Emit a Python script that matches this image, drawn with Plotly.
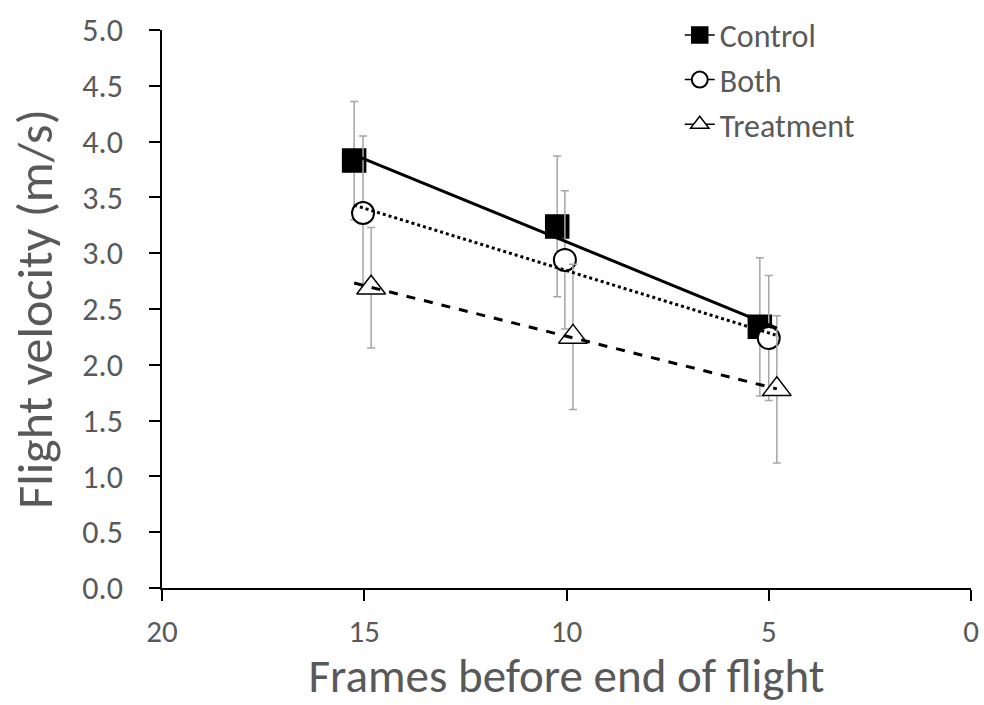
import numpy as np
import plotly.graph_objects as go

# Data
series_names = ["Control", "Both", "Treatment"]
x_control = [15.25, 10.23, 5.22]
y_control = [3.83, 3.24, 2.34]
e_control = [0.53, 0.63, 0.62]

x_both = [15.03, 10.04, 5.0]
y_both = [3.36, 2.94, 2.24]
e_both = [0.69, 0.62, 0.56]

x_treat = [14.83, 9.84, 4.8]
y_treat = [2.69, 2.25, 1.78]
e_treat = [0.54, 0.65, 0.66]

x_ticks = [20, 15, 10, 5, 0]
y_ticks = [0.0, 0.5, 1.0, 1.5, 2.0, 2.5, 3.0, 3.5, 4.0, 4.5, 5.0]

FONT = "Carlito, Open Sans"
GREY = "#595959"

styles = {
    "Control": dict(symbol="square", size=23, fill="black", lw=1.5, dash="solid"),
    "Both": dict(symbol="circle", size=22, fill="white", lw=2, dash="dot"),
    "Treatment": dict(symbol="triangle-up", size=25, fill="white", lw=1.5, dash="dash"),
}

data = {
    "Control": (x_control, y_control, e_control),
    "Both": (x_both, y_both, e_both),
    "Treatment": (x_treat, y_treat, e_treat),
}

fig = go.Figure()

all_x = x_control + x_both + x_treat
span = np.array([max(all_x), min(all_x)])

for name in series_names:
    xs, ys, es = data[name]
    st = styles[name]
    fig.add_trace(go.Scatter(
        x=xs, y=ys, mode="markers", name=name, showlegend=False,
        marker=dict(symbol=st["symbol"], size=st["size"], color=st["fill"],
                    line=dict(color="black", width=st["lw"])),
        error_y=dict(type="data", array=es, visible=True, color="#a6a6a6",
                     thickness=1.5, width=4),
    ))

for name in series_names:
    xs, ys, es = data[name]
    st = styles[name]
    k, b = np.polyfit(xs, ys, 1)
    fig.add_trace(go.Scatter(
        x=span, y=k * span + b, mode="lines", showlegend=False,
        line=dict(color="black", width=3, dash=st["dash"]),
        hoverinfo="skip",
    ))

# legend entries
for name in series_names:
    st = styles[name]
    fig.add_trace(go.Scatter(
        x=[None], y=[None], mode="lines+markers", name=name,
        marker=dict(symbol=st["symbol"], size=st["size"] - 3, color=st["fill"],
                    line=dict(color="black", width=st["lw"])),
        line=dict(color="black", width=1.5),
    ))

fig.update_layout(
    width=984, height=705,
    margin=dict(l=162, r=13, t=30, b=117, autoexpand=False),
    paper_bgcolor="white", plot_bgcolor="white",
    font=dict(family=FONT, color=GREY),
    legend=dict(x=0.64, y=1.04, xanchor="left", yanchor="top",
                font=dict(size=32, color=GREY, family=FONT),
                bgcolor="rgba(0,0,0,0)", tracegroupgap=0, itemwidth=30),
    xaxis=dict(range=[20, 0], tickvals=x_ticks, ticktext=[str(t) for t in x_ticks],
               showline=True, linecolor="black", linewidth=1.5,
               ticks="outside", ticklen=11, tickcolor="black", tickwidth=1.5,
               showgrid=False, zeroline=False, ticklabelstandoff=4,
               tickfont=dict(size=31, color=GREY, family=FONT),
               title=dict(text="Frames before end of flight",
                          font=dict(size=47, color=GREY, family=FONT), standoff=10)),
    yaxis=dict(range=[0, 5], tickvals=y_ticks, ticktext=[f"{t:.1f}" for t in y_ticks],
               showline=True, linecolor="black", linewidth=1.5,
               ticks="outside", ticklen=11, tickcolor="black", tickwidth=1.5,
               showgrid=False, zeroline=False, ticklabelstandoff=20,
               tickfont=dict(size=32, color=GREY, family=FONT),
               title=dict(text="Flight velocity (m/s)",
                          font=dict(size=50, color=GREY, family=FONT), standoff=14)),
)

fig.write_html("out.html")
